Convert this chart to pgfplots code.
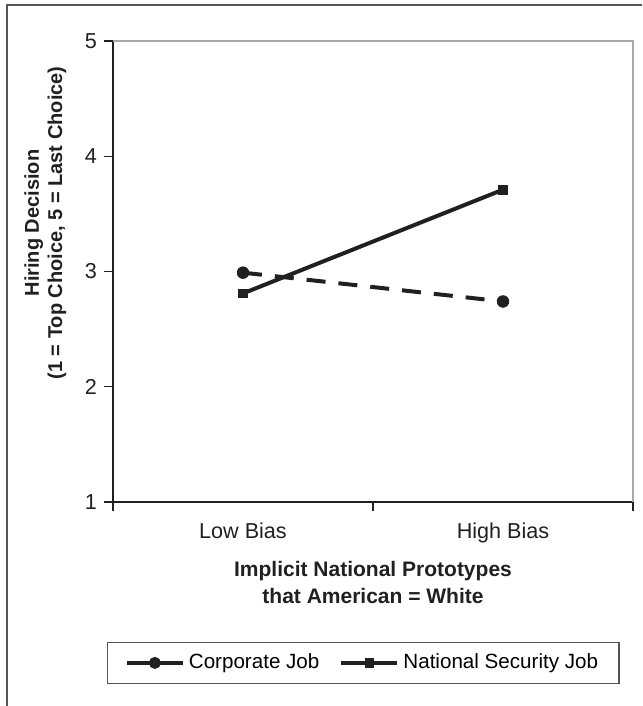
\documentclass[border=0pt]{standalone}
\usepackage{pgfplots}
\pgfplotsset{compat=1.18}
\usepackage{fontspec}
\setmainfont{Liberation Sans}
\definecolor{ink}{HTML}{231F20}
\definecolor{framec}{HTML}{555555}
\definecolor{boxgray}{HTML}{A8A8A8}
\begin{document}
\begin{tikzpicture}[x=0.5pt,y=-0.5pt]
\draw[framec, line width=1pt] (7,706) -- (7,5) -- (642,5);
\begin{axis}[
  at={(56.5pt,-251pt)}, anchor=south west,
  scale only axis, width=260pt, height=230.5pt,
  xmin=0, xmax=2, ymin=1, ymax=5,
  axis x line*=bottom, axis y line*=left,
  axis line style={draw=ink, line width=0.8pt, -},
  xtick={0,1,2}, xticklabels={Low Bias,High Bias}, x tick label as interval,
  ytick={1,2,3,4,5},
  tick align=outside, major tick length=4.5pt,
  tick style={draw=ink, line width=0.6pt},
  /pgf/number format/assume math mode=true,
  tick label style={font=\fontsize{10.8}{13}\selectfont, text=ink},
  xticklabel style={yshift=-2.5pt},
  clip=false,
  legend columns=2,
  legend style={at={(0.4817,-0.349)}, anchor=center, draw=framec, line width=0.6pt,
    font=\fontsize{10.3}{12}\selectfont, inner xsep=8.5pt, inner ysep=3.8pt,
    /tikz/every even column/.append style={column sep=8pt}},
  legend image code/.code={\draw[mark repeat=2,mark phase=2,#1] plot coordinates {(0pt,0pt) (14pt,0pt) (28pt,0pt)};},
]
\draw[boxgray, line width=0.8pt] (rel axis cs:0,1) -- (rel axis cs:1,1) -- (rel axis cs:1,0);
\addlegendimage{ink, line width=2pt, solid, mark=*, mark size=2.8pt, mark options={line width=0.4pt}}
\addlegendentry{Corporate Job}
\addplot[ink, line width=2pt, dash pattern=on 9.5pt off 6.5pt, mark=*, mark size=2.9pt, mark options={solid, line width=0.4pt}, forget plot]
  coordinates {(0.5,2.99) (1.5,2.74)};
\addplot[ink, line width=2pt, mark=square*, mark size=2.2pt, mark options={line width=0.4pt}]
  coordinates {(0.5,2.81) (1.5,3.71)};
\addlegendentry{National Security Job}
\end{axis}
\node[font=\bfseries\fontsize{10.5}{12}\selectfont, anchor=base, text=ink] at (373,576) {Implicit National Prototypes};
\node[font=\bfseries\fontsize{10.5}{12}\selectfont, anchor=base, text=ink] at (373,603) {that American = White};
\node[font=\bfseries\fontsize{10}{12}\selectfont, anchor=base, rotate=90, text=ink] at (39,223) {Hiring Decision};
\node[font=\bfseries\fontsize{10}{12}\selectfont, anchor=base, rotate=90, text=ink] at (62,223) {(1 = Top Choice, 5 = Last Choice)};
\pgfresetboundingbox
\useasboundingbox (0,0) rectangle (642,706);
\end{tikzpicture}
\end{document}
